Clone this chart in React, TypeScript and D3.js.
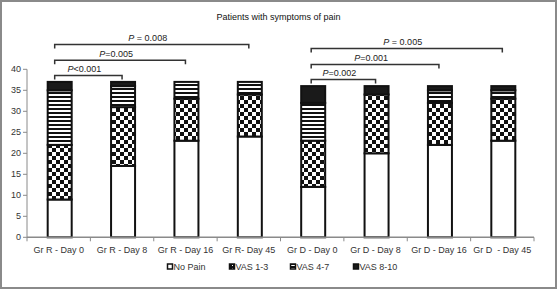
import React from "react";
import * as d3 from "d3";

const categories = [
  "Gr R - Day 0",
  "Gr R - Day 8",
  "Gr R - Day 16",
  "Gr R- Day 45",
  "Gr D - Day 0",
  "Gr D - Day 8",
  "Gr D - Day 16",
  "Gr D  - Day 45",
];
const seriesNames = ["No Pain", "VAS 1-3", "VAS 4-7", "VAS 8-10"];
const noPain = [9, 17, 23, 24, 12, 20, 22, 23];
const vas13 = [13, 14, 10, 10, 11, 14, 10, 10];
const vas47 = [13, 5, 4, 3, 9, 0, 3, 2];
const vas810 = [2, 1, 0, 0, 4, 2, 1, 1];
const yTicks = [0, 5, 10, 15, 20, 25, 30, 35, 40];

const brackets = [
  { from: 0, to: 1, level: 0, label: "<0.001" },
  { from: 0, to: 2, level: 1, label: "=0.005" },
  { from: 0, to: 3, level: 2, label: " = 0.008" },
  { from: 4, to: 5, level: 0, label: "=0.002" },
  { from: 4, to: 6, level: 1, label: "=0.001" },
  { from: 4, to: 7, level: 2, label: " = 0.005" },
];

const W = 557;
const H = 290;
const FONT = "'Liberation Sans', Arial, sans-serif";

export default function App() {
  const x = d3.scaleBand<string>().domain(categories).range([27, 534]).padding(0);
  const y = d3.scaleLinear().domain([0, 40]).range([237.3, 69.3]);
  const bw = x.bandwidth();
  const barW = 24;

  const rows = categories.map((c, i) => ({
    cat: c,
    "No Pain": noPain[i],
    "VAS 1-3": vas13[i],
    "VAS 4-7": vas47[i],
    "VAS 8-10": vas810[i],
  }));
  const stacked = d3.stack<any>().keys(seriesNames)(rows);
  const fills = ["#ffffff", "url(#checker)", "url(#stripes)", "#1a1a1a"];
  const totals = rows.map((r) => r["No Pain"] + r["VAS 1-3"] + r["VAS 4-7"] + r["VAS 8-10"]);
  const cx = (i: number) => (x(categories[i]) as number) + bw / 2 + 1;
  const levelOff = [6.5, 21.7, 37.5];

  const legendX = [167, 229, 290, 353];

  return (
    <svg
      width={W}
      height={H}
      style={{ position: "absolute", left: 0, top: 0, background: "#fff" }}
      fontFamily={FONT}
    >
      <defs>
        <pattern id="checker" patternUnits="userSpaceOnUse" width={8} height={8}>
          <rect width={8} height={8} fill="#fff" />
          <rect x={0} y={0} width={4} height={4} fill="#111" />
          <rect x={4} y={4} width={4} height={4} fill="#111" />
        </pattern>
        <pattern id="stripes" patternUnits="userSpaceOnUse" width={4} height={4}>
          <rect width={4} height={4} fill="#fff" />
          <rect x={0} y={0} width={4} height={2} fill="#111" />
        </pattern>
        <pattern id="checkerSm" patternUnits="userSpaceOnUse" width={3} height={3}>
          <rect width={3} height={3} fill="#111" />
          <rect x={1} y={1} width={1} height={1} fill="#fff" />
        </pattern>
        <pattern id="stripesSm" patternUnits="userSpaceOnUse" width={6} height={3}>
          <rect width={6} height={3} fill="#111" />
          <rect x={0} y={1} width={6} height={1} fill="#fff" />
        </pattern>
      </defs>
      <rect x={1} y={1} width={W - 2} height={H - 3} fill="#fff" stroke="#8a8a8a" strokeWidth={2} />

      <text x={278.5} y={20} textAnchor="middle" fontSize={9} fill="#111">
        Patients with symptoms of pain
      </text>

      {/* y axis */}
      <line x1={27} x2={27} y1={y(40)} y2={y(0)} stroke="#8a8a8a" strokeWidth={1} />
      {yTicks.map((t) => (
        <g key={t}>
          <line x1={23} x2={27} y1={y(t)} y2={y(t)} stroke="#8a8a8a" />
          <text x={21} y={y(t)} dy="0.35em" textAnchor="end" fontSize={9} fill="#333">
            {t}
          </text>
        </g>
      ))}

      {/* bars */}
      {stacked.map((s, si) =>
        s.map((d, i) => {
          if (d[1] - d[0] <= 0) return null;
          return (
            <rect
              key={si + "-" + i}
              x={cx(i) - barW / 2}
              y={y(d[1])}
              width={barW}
              height={y(d[0]) - y(d[1])}
              fill={fills[si]}
              stroke="#111"
              strokeWidth={2}
            />
          );
        })
      )}

      {/* x axis */}
      <line x1={27} x2={534} y1={y(0)} y2={y(0)} stroke="#8a8a8a" strokeWidth={1.5} />
      {categories.map((c, i) => (
        <line
          key={"t" + i}
          x1={(x(c) as number) + bw}
          x2={(x(c) as number) + bw}
          y1={y(0)}
          y2={y(0) + 4}
          stroke="#8a8a8a"
        />
      ))}
      <line x1={27} x2={27} y1={y(0)} y2={y(0) + 4} stroke="#8a8a8a" />
      {categories.map((c) => (
        <text
          key={"l" + c}
          x={(x(c) as number) + bw / 2}
          y={252.5}
          textAnchor="middle"
          fontSize={9}
          fill="#333"
          style={{ whiteSpace: "pre" }}
        >
          {c}
        </text>
      ))}

      {/* significance brackets */}
      {brackets.map((b, k) => {
        const grpMax = Math.max(...totals.slice(b.from, b.to + 1));
        const yy = y(grpMax) - levelOff[b.level];
        const x1 = cx(b.from) - (b.from === 0 ? 5 : 2);
        const x2 = cx(b.to) - 1;
        const leg = 4;
        return (
          <g key={"b" + k}>
            <path
              d={`M${x1},${yy + leg}V${yy}H${x2}V${yy + leg}`}
              fill="none"
              stroke="#333"
              strokeWidth={1.5}
            />
            <text
              x={(x1 + x2) / 2 - 4}
              y={yy - 3.5}
              textAnchor="middle"
              fontSize={9}
              fill="#222"
              style={{ whiteSpace: "pre" }}
            >
              <tspan fontStyle="italic">P</tspan>
              {b.label}
            </text>
          </g>
        );
      })}

      {/* legend */}
      {seriesNames.map((n, i) => (
        <g key={"lg" + n}>
          <rect
            x={legendX[i] + 0.5}
            y={264}
            width={5}
            height={5}
            fill={["#fff", "url(#checkerSm)", "url(#stripesSm)", "#1a1a1a"][i]}
            stroke="#111"
            strokeWidth={1.5}
          />
          <text x={legendX[i] + 6.5} y={270} fontSize={9} fill="#333">
            {n}
          </text>
        </g>
      ))}
    </svg>
  );
}
